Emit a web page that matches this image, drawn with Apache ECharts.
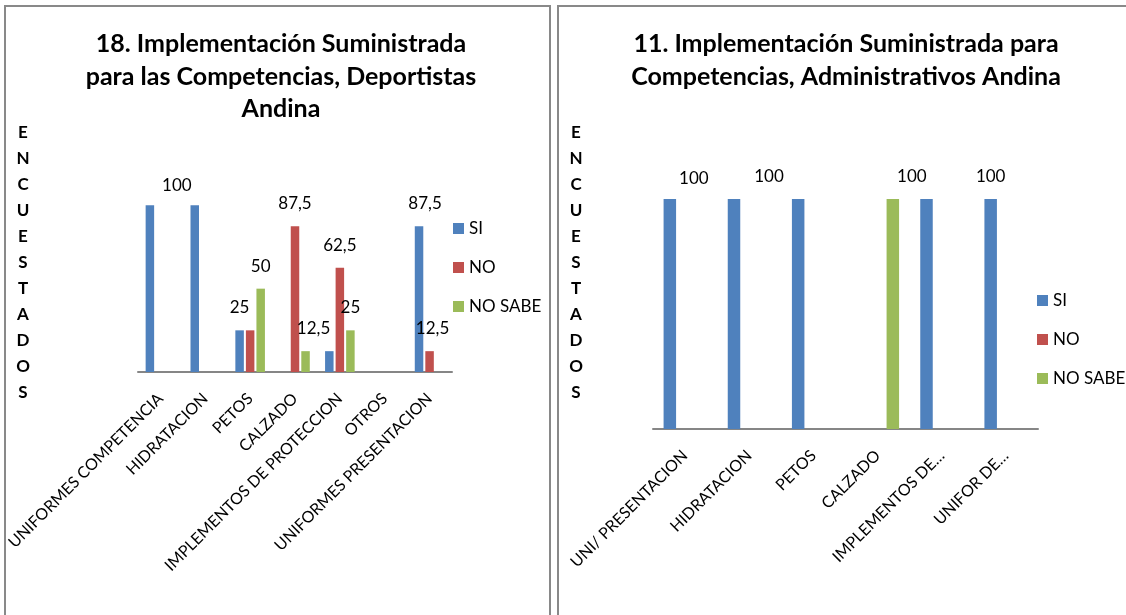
<!DOCTYPE html>
<html>
<head>
<meta charset="utf-8">
<script src="https://cdn.jsdelivr.net/npm/echarts@6/dist/echarts.min.js"></script>
<style>
  html, body { margin: 0; padding: 0; background: #fff; }
  #main { width: 1126px; height: 615px; }
</style>
</head>
<body>
<div id="main"></div>
<script>
// datos grafico 18 (deportistas)
const leftCats = ['UNIFORMES COMPETENCIA', 'HIDRATACION', 'PETOS', 'CALZADO', 'IMPLEMENTOS DE PROTECCION', 'OTROS', 'UNIFORMES PRESENTACION'];
const leftSi = [100, 100, 25, 0, 12.5, 0, 87.5];
const leftNo = [0, 0, 25, 87.5, 62.5, 0, 12.5];
const leftNoSabe = [0, 0, 50, 12.5, 25, 0, 0];

// datos grafico 11 (administrativos)
const rightCats = ['UNI/ PRESENTACION', 'HIDRATACION', 'PETOS', 'CALZADO', 'IMPLEMENTOS DE…', 'UNIFOR DE…'];
const rightSi = [100, 100, 100, 0, 100, 100];
const rightNo = [0, 0, 0, 0, 0, 0];
const rightNoSabe = [0, 0, 0, 100, 0, 0];

const legendNames = ['SI', 'NO', 'NO SABE'];
const colors = { 'SI': '#4F81BD', 'NO': '#C0504D', 'NO SABE': '#9BBB59' };

// que barras llevan etiqueta y su desplazamiento (como en la hoja original)
const leftLabelAt = {
    'SI': { 0: [27, 3], 2: [0, 0], 6: [6, 0] },
    'NO': { 3: [0, 0], 4: [0, 0], 6: [3, 0] },
    'NO SABE': { 2: [0, 0], 3: [8, 0], 4: [0, 0] }
};
const rightLabelAt = {
    'SI': { 0: [24, 2], 1: [35, 0], 5: [0, 0] },
    'NO': {},
    'NO SABE': { 3: [19, 0] }
};

const font = 'Lato, "DejaVu Sans", sans-serif';
const vertical = 'ENCUESTADOS'.split('').join('\n');

let makeSeries = (name, values, idx, at, barWidth, barGap) => {
    return {
        name: name,
        type: 'bar',
        xAxisIndex: idx,
        yAxisIndex: idx,
        barWidth: barWidth,
        barGap: barGap,
        itemStyle: { color: colors[name] },
        label: {
            show: false,
            position: 'top',
            distance: 14,
            fontFamily: font,
            fontSize: 17,
            color: '#000',
            formatter: p => String(p.value).replace('.', ',')
        },
        data: values.map((v, i) => at[i] ? { value: v, label: { show: true, offset: at[i] } } : v)
    }
}

let xAxisBase = (idx, cats, margin) => ({
    type: 'category',
    gridIndex: idx,
    data: cats,
    axisTick: { show: false },
    axisLine: { lineStyle: { color: '#868686', width: 2 } },
    axisLabel: {
        interval: 0,
        rotate: 45,
        margin: margin,
        fontFamily: font,
        fontSize: 16,
        color: '#000'
    }
});

let yAxisBase = idx => ({
    type: 'value',
    gridIndex: idx,
    min: 0,
    max: 120,
    show: false
});

let legendBase = (left, top) => ({
    orient: 'vertical',
    left: left,
    top: top,
    itemWidth: 11,
    itemHeight: 11,
    itemGap: 22,
    icon: 'rect',
    selectedMode: false,
    textStyle: { fontFamily: font, fontSize: 17, color: '#000' },
    data: legendNames
});

let myChart = echarts.init(document.getElementById('main'));

myChart.setOption({
    animation: false,
    title: [
        {
            text: '18. Implementación Suministrada\npara las Competencias, Deportistas\nAndina',
            left: 281, top: 28, textAlign: 'center', padding: 0,
            textStyle: { fontFamily: font, fontWeight: 'bold', fontSize: 25, lineHeight: 32.5, color: '#000' }
        },
        {
            text: '11. Implementación Suministrada para\nCompetencias, Administrativos Andina',
            left: 846, top: 28, textAlign: 'center', padding: 0,
            textStyle: { fontFamily: font, fontWeight: 'bold', fontSize: 25, lineHeight: 32.5, color: '#000' }
        },
        {
            text: vertical,
            left: 23, top: 120, textAlign: 'center', padding: 0,
            textStyle: { fontFamily: font, fontWeight: 'bold', fontSize: 17, lineHeight: 26, color: '#000' }
        },
        {
            text: vertical,
            left: 576, top: 120, textAlign: 'center', padding: 0,
            textStyle: { fontFamily: font, fontWeight: 'bold', fontSize: 17, lineHeight: 26, color: '#000' }
        }
    ],
    graphic: [
        { type: 'rect', shape: { x: 5, y: 6, width: 545, height: 700 }, style: { fill: 'none', stroke: '#898989', lineWidth: 2 } },
        { type: 'rect', shape: { x: 558, y: 6, width: 700, height: 700 }, style: { fill: 'none', stroke: '#898989', lineWidth: 2 } }
    ],
    legend: [legendBase(448, 215), legendBase(1032, 287)],
    grid: [
        { left: 138, right: 674, top: 172, bottom: 243 },
        { left: 653, right: 88, top: 153, bottom: 186 }
    ],
    xAxis: [xAxisBase(0, leftCats, 24), xAxisBase(1, rightCats, 24)],
    yAxis: [yAxisBase(0), yAxisBase(1)],
    series: [
        makeSeries('SI', leftSi, 0, leftLabelAt['SI'], 8.5, '24%'),
        makeSeries('NO', leftNo, 0, leftLabelAt['NO'], 8.5, '24%'),
        makeSeries('NO SABE', leftNoSabe, 0, leftLabelAt['NO SABE'], 8.5, '24%'),
        makeSeries('SI', rightSi, 1, rightLabelAt['SI'], 12.5, '22%'),
        makeSeries('NO', rightNo, 1, rightLabelAt['NO'], 12.5, '22%'),
        makeSeries('NO SABE', rightNoSabe, 1, rightLabelAt['NO SABE'], 12.5, '22%')
    ]
});
</script>
</body>
</html>
